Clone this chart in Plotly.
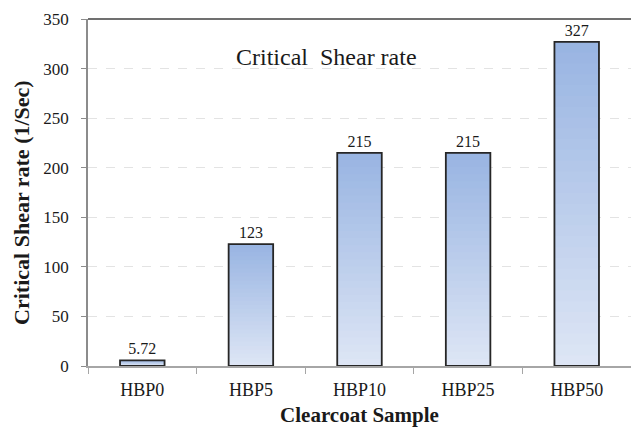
import plotly.graph_objects as go

categories = ["HBP0", "HBP5", "HBP10", "HBP25", "HBP50"]
values = [5.72, 123, 215, 215, 327]
labels = ["5.72", "123", "215", "215", "327"]
y_ticks = [0, 50, 100, 150, 200, 250, 300, 350]

FONT = "Liberation Serif"
top_rgb = (152, 180, 226)
bot_rgb = (222, 230, 245)
N = 30

fig = go.Figure()

# gradient fill: overlaid bars, taller ones first
for k in range(N, 0, -1):
    f = (k - 0.5) / N
    c = tuple(round(b + (t - b) * f) for t, b in zip(top_rgb, bot_rgb))
    fig.add_trace(go.Bar(
        x=categories, y=[v * k / N for v in values],
        width=0.41, marker=dict(color="rgb(%d,%d,%d)" % c, line=dict(width=0)),
        hoverinfo="skip", showlegend=False,
    ))

# outline + labels
fig.add_trace(go.Bar(
    x=categories, y=values, width=0.41,
    marker=dict(color="rgba(0,0,0,0)", line=dict(color="#262626", width=1.8)),
    text=labels, textposition="outside", cliponaxis=False,
    textfont=dict(family=FONT, size=16, color="#1a1a1a"),
    showlegend=False,
))

fig.update_layout(
    width=631, height=427,
    margin=dict(l=88, r=0, t=19, b=61),
    barmode="overlay",
    plot_bgcolor="white", paper_bgcolor="white",
    font=dict(family=FONT, color="#1a1a1a"),
    xaxis=dict(
        type="category", range=[-0.5, 4.5],
        showline=True, linecolor="#a6a6a6", linewidth=1.5,
        ticks="outside", tickson="boundaries", ticklen=6, tickcolor="#a6a6a6",
        tickfont=dict(family=FONT, size=18, color="#1a1a1a"),
        ticklabelstandoff=7,
        showgrid=False,
        title=dict(text="<b>Clearcoat Sample</b>", font=dict(family=FONT, size=21, color="#1a1a1a"), standoff=11),
    ),
    yaxis=dict(
        range=[0, 350], tickvals=y_ticks,
        showline=True, linecolor="#8c8c8c", linewidth=1.5,
        ticks="outside", ticklen=5, tickcolor="#8c8c8c",
        tickfont=dict(family=FONT, size=17, color="#1a1a1a"),
        ticklabelstandoff=9,
        showgrid=True, gridcolor="#e3e3e3", griddash="dash", gridwidth=1,
        zeroline=False,
    ),
    annotations=[
        dict(
            text="Critical  Shear rate", xref="paper", yref="paper",
            x=0.44, y=0.89, xanchor="center", yanchor="middle", showarrow=False,
            font=dict(family=FONT, size=24, color="#1a1a1a"),
        ),
        dict(
            text="<b>Critical Shear rate (1/Sec)</b>", xref="paper", yref="paper",
            x=0, y=0.47, xshift=-66, textangle=-90, xanchor="center", yanchor="middle",
            showarrow=False, font=dict(family=FONT, size=22, color="#1a1a1a"),
        ),
    ],
    shapes=[dict(type="line", xref="paper", yref="paper", x0=0, x1=1, y0=1, y1=1,
                 line=dict(color="#404040", width=1.5))],
)

fig.write_html("out.html")
